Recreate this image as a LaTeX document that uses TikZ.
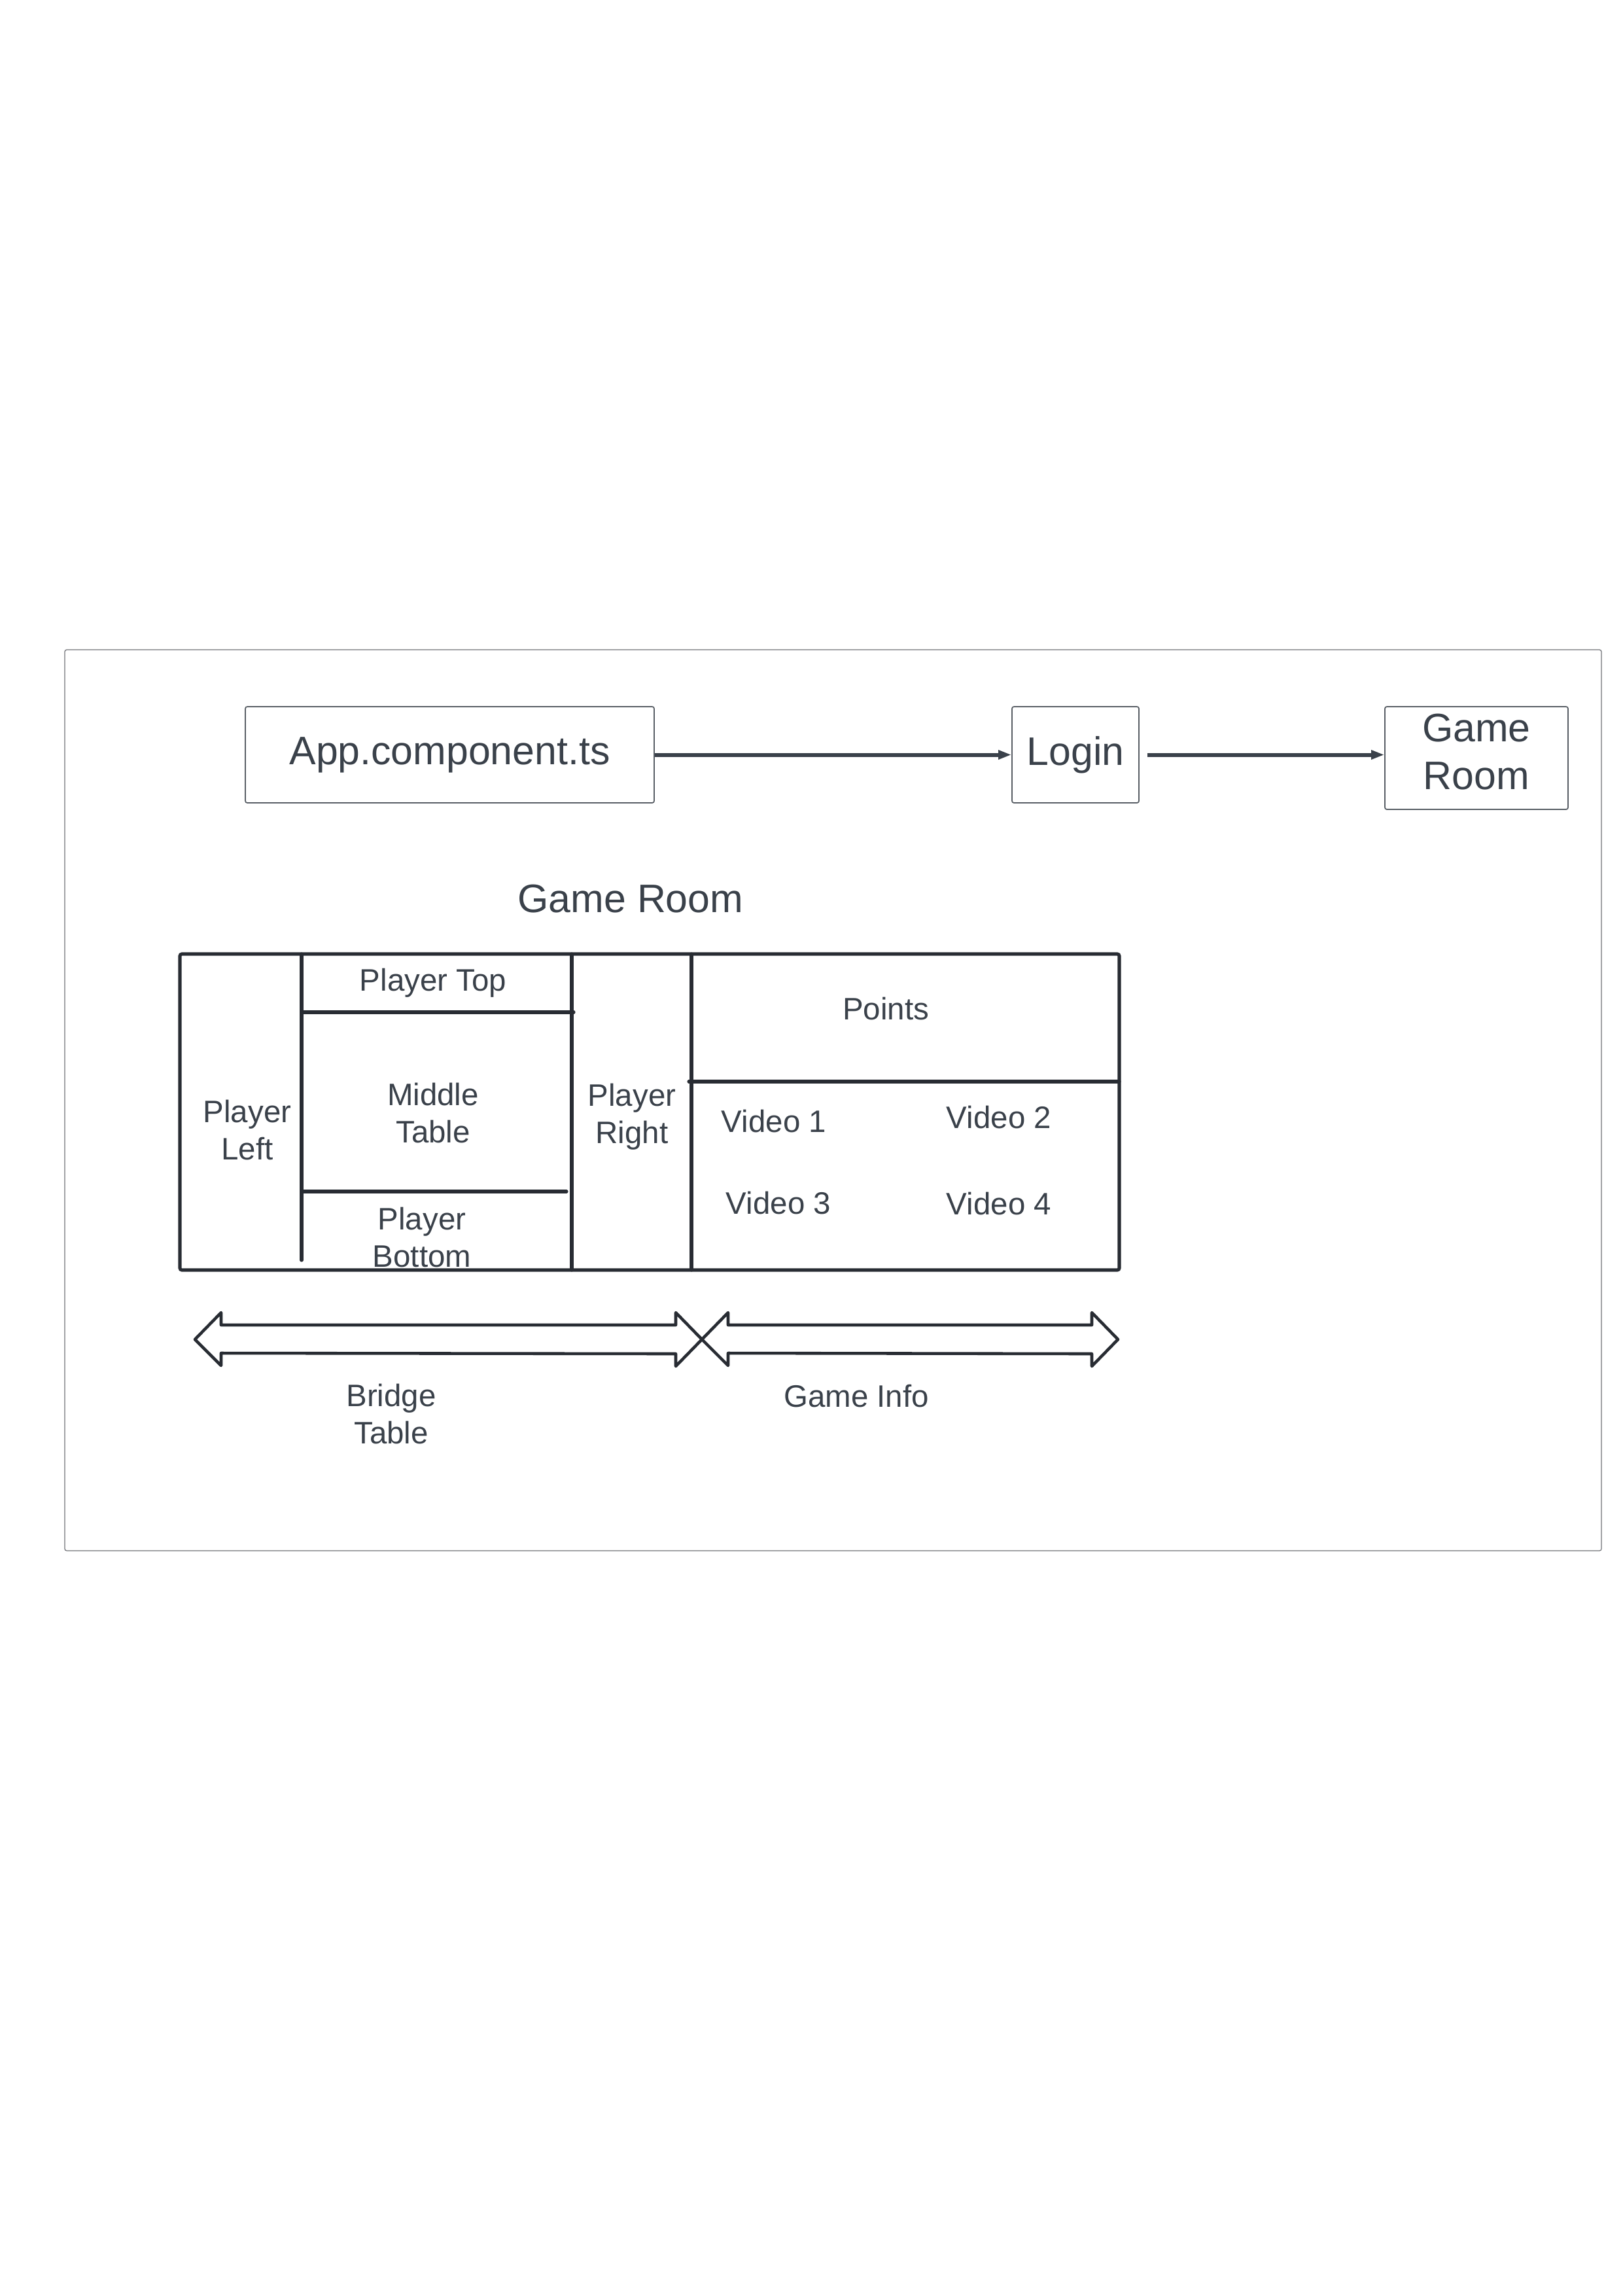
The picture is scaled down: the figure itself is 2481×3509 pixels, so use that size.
\documentclass[tikz,border=0pt]{standalone}
\usepackage{fontspec}
\setmainfont{Liberation Sans}
\usetikzlibrary{arrows.meta}
\definecolor{inkgray}{HTML}{3A414A}
\definecolor{walldark}{HTML}{282C33}
\definecolor{framegray}{HTML}{6E7075}
\tikzset{
	compbox/.style={draw=inkgray!85, line width=0.5pt, rounded corners=0.3mm, inner sep=0pt, text=inkgray, font=\fontsize{17.3}{20.7}\selectfont, align=center},
	flowarrow/.style={draw=inkgray, line width=1.7pt, -{Triangle[length=5.7pt,width=3.8pt]}},
	wall/.style={draw=walldark, line width=1.45pt, line cap=round},
	cell/.style={text=inkgray, font=\fontsize{13.5}{16.2}\selectfont, align=center, inner sep=0pt},
}

\begin{document}
\begin{tikzpicture}[x=0.1mm, y=-0.1mm]
		\useasboundingbox (0,0) rectangle (2481,3509);
		\draw[framegray, line width=0.35pt, rounded corners=0.3mm] (99,993) rectangle (2448,2370);
		% components
		\node[compbox, minimum width=62.5mm, minimum height=14.7mm] (app) at (687.5,1153.5) {App.component.ts};
		\node[compbox, minimum width=19.4mm, minimum height=14.7mm] (login) at (1644,1153.5) {Login};
		\node[compbox, minimum width=28mm, minimum height=15.7mm, text depth=1.9mm] (room) at (2257,1158.5) {Game\\Room};
		\draw[flowarrow] (app.east) -- (login.west);
		\draw[flowarrow, shorten <=1.2mm] (login.east) -- (login.east -| room.west);
		% game room layout
		\node[cell, font=\fontsize{17.3}{20.7}\selectfont] (title) at (964,1374) {Game Room};
		\draw[wall, rounded corners=0.3mm] (275,1458) rectangle (1711,1941);
		\draw[wall] (461,1458) -- (461,1926);
		\draw[wall] (874,1458) -- (874,1941);
		\draw[wall] (1057,1458) -- (1057,1941);
		\draw[wall] (461,1547) -- (877,1547);
		\draw[wall] (461,1821) -- (866,1821);
		\draw[wall] (1053,1653) -- (1711,1653);
		\node[cell] (ptop) at (662,1502) {Player Top};
		\node[cell] (mid) at (662,1701) {Middle\\Table};
		\node[cell] (pbottom) at (645,1891) {Player\\Bottom};
		\node[cell] (pleft) at (378,1727) {Player\\Left};
		\node[cell] (pright) at (966,1707) {Player\\Right};
		\node[cell] (points) at (1354,1542) {Points};
		\node[cell] (vid1) at (1183,1714) {Video 1};
		\node[cell] (vid2) at (1527,1708) {Video 2};
		\node[cell] (vid3) at (1190,1839) {Video 3};
		\node[cell] (vid4) at (1527,1840) {Video 4};
		% double arrows
		\foreach \a/\b in {298/1073, 1073/1709}{
			\draw[wall, line width=1.3pt, line join=round] (\a,2047) -- ++(40,-41) -- ++(0,19) -- (\b-40,2025) -- ++(0,-19) -- (\b,2047) -- ++(-40,41) -- ++(0,-19) -- (\a+40,2068) -- ++(0,19) -- cycle;
		}
		\node[cell] (bridge) at (598,2161) {Bridge\\Table};
		\node[cell] (ginfo) at (1309,2134) {Game Info};
	\end{tikzpicture}
\end{document}
